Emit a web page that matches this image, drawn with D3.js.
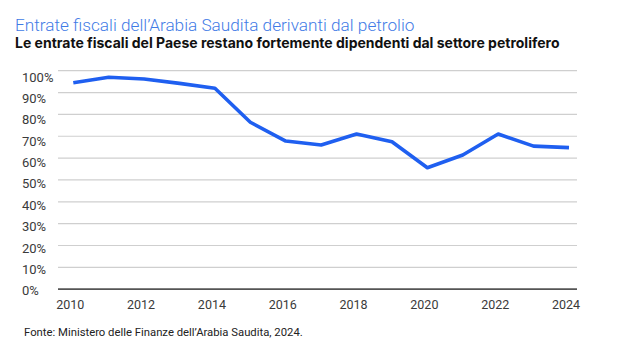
<!DOCTYPE html>
<html><head><meta charset="utf-8">
<script src="https://cdn.jsdelivr.net/npm/d3@7"></script>
<style>
html,body{margin:0;padding:0;background:#fff;}
svg{display:block;font-family:Roboto, "Noto Sans", sans-serif;}
</style></head>
<body>
<svg id="chart" width="642" height="343"></svg>
<script>
const years = [2010,2011,2012,2013,2014,2015,2016,2017,2018,2019,2020,2021,2022,2023,2024];
const oilShare = [94.5,97.0,96.2,94.2,92.0,76.4,67.8,66.0,71.0,67.5,55.6,61.4,71.0,65.5,64.8];
const yTicks = [0,10,20,30,40,50,60,70,80,90,100];
const xTicks = [2010,2012,2014,2016,2018,2020,2022,2024];
const titleText = "Entrate fiscali dell\u2019Arabia Saudita derivanti dal petrolio";
const subtitleText = "Le entrate fiscali del Paese restano fortemente dipendenti dal settore petrolifero";
const sourceText = "Fonte: Ministero delle Finanze dell\u2019Arabia Saudita, 2024.";

const svg = d3.select("#chart");
const x = d3.scaleLinear().domain([2010,2024]).range([73.3,569]);
const y = d3.scaleLinear().domain([0,100]).range([289.2,70.7]);
const yLab = d3.scaleLinear().domain([0,100]).range([290.7,77]);
const gridX0 = 58, gridX1 = 577;

svg.append("text").attr("x",15).attr("y",31)
  .attr("font-size",17.2).attr("font-weight",300).attr("fill","#3f7be6")
  .text(titleText);
svg.append("text").attr("x",15).attr("y",48)
  .attr("font-family","Inter, Roboto, sans-serif")
  .attr("font-size",14).attr("font-weight",700).attr("fill","#111")
  .text(subtitleText);

// gridlines
svg.append("g").selectAll("line").data(yTicks.filter(d=>d>0)).join("line")
  .attr("x1",gridX0).attr("x2",gridX1)
  .attr("y1",d=>y(d)).attr("y2",d=>y(d))
  .attr("stroke","#cfcfcf").attr("stroke-width",1.2);
svg.append("line").attr("x1",gridX0).attr("x2",gridX1)
  .attr("y1",y(0)).attr("y2",y(0)).attr("stroke","#555").attr("stroke-width",1.8);

// y labels
svg.append("g").selectAll("text").data(yTicks).join("text")
  .attr("x",22).attr("y",d=>yLab(d)).attr("dy","0.35em")
  .attr("font-size",13).attr("fill","#3a3a3a")
  .text(d=>d+"%");

// x labels
svg.append("g").selectAll("text").data(xTicks).join("text")
  .attr("x",d=>x(d)-3).attr("y",305).attr("dy","0.35em")
  .attr("text-anchor","middle")
  .attr("font-size",12.5).attr("fill","#3a3a3a")
  .text(d=>d);

// line
const line = d3.line().x((d,i)=>x(years[i])).y(d=>y(d));
svg.append("path").datum(oilShare).attr("d",line)
  .attr("fill","none").attr("stroke","#1f5ff0").attr("stroke-width",3.6)
  .attr("stroke-linejoin","round").attr("stroke-linecap","butt");

svg.append("text").attr("x",24).attr("y",332).attr("dy","0.35em")
  .attr("font-size",11.3).attr("fill","#222")
  .text(sourceText);
</script>
</body></html>
